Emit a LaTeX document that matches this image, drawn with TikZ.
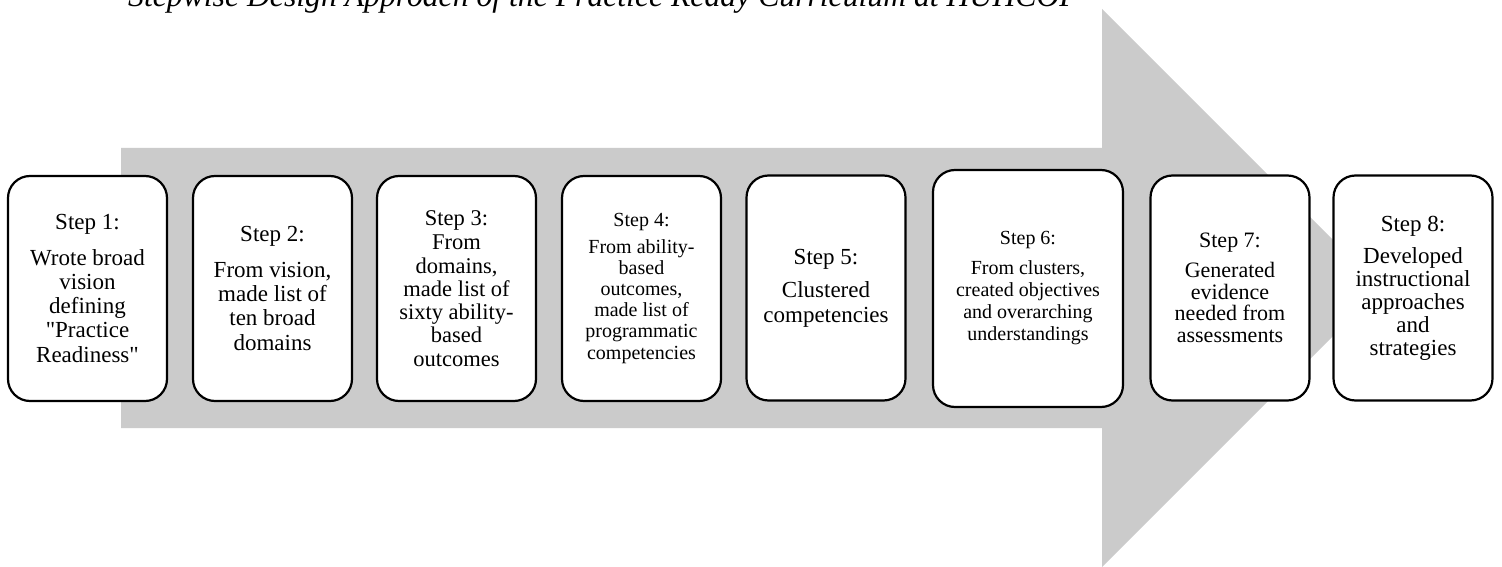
\documentclass[tikz,border=0pt]{standalone}
\usepackage{fontspec}
\setmainfont{Liberation Serif}[Ligatures=TeXOff]
\definecolor{arrowgray}{RGB}{203,203,203}
\tikzset{
  stepbox/.style={draw, line width=2.2pt, rounded corners=22pt, fill=white,
    minimum width=159pt, minimum height=225pt, inner sep=0pt, align=center},
  fsize/.style 2 args={font=\fontsize{#1}{#2}\selectfont}
}
\begin{document}
\begin{tikzpicture}[x=1pt, y=-1pt]
  \clip (0,0) rectangle (1502,567);
  \fill[white] (0,0) rectangle (1502,567);

  % caption, partly cut off by the top edge
  \node[anchor=base west, inner sep=0pt, font=\fontsize{31.7}{34}\selectfont\itshape]
    (title) at (128,7) {Stepwise Design Approach of the Practice Ready Curriculum at HUHCOP};

  % large background arrow
  \fill[arrowgray] (121,148) -- (1102,148) -- (1102,9) -- (1381,288)
    -- (1102,567) -- (1102,428) -- (121,428) -- cycle;

  % the eight steps
  \node[stepbox, fsize={23}{24.3}] (s1) at (87.5,288.5)
    {Step 1:\\[11pt] Wrote broad\\ vision\\ defining\\ "Practice\\ Readiness"};
  \node[stepbox, fsize={23}{24.3}] (s2) at (272.5,288.5)
    {Step 2:\\[11pt] From vision,\\ made list of\\ ten broad\\ domains};
  \node[stepbox, fsize={22.5}{23.3}] (s3) at (456.5,288.5)
    {Step 3:\\[1pt] From\\ domains,\\ made list of\\ sixty ability-\\ based\\ outcomes};
  \node[stepbox, fsize={20}{21.2}] (s4) at (641.5,288.5)
    {Step 4:\\[5pt] From ability-\\ based\\ outcomes,\\ made list of\\ programmatic\\ competencies};
  \node[stepbox, fsize={23}{25}] (s5) at (826,288)
    {Step 5:\\[8pt] Clustered\\ competencies};
  \node[stepbox, fsize={20}{22}, minimum width=190pt, minimum height=237pt] (s6) at (1028,288.5)
    {Step 6:\\[8pt] From clusters,\\ created objectives\\ and overarching\\ understandings};
  \node[stepbox, fsize={22}{21.5}] (s7) at (1230,288)
    {Step 7:\\[8.5pt] Generated\\ evidence\\ needed from\\ assessments};
  \node[stepbox, fsize={23}{23}] (s8) at (1413,288)
    {Step 8:\\[9pt] Developed\\ instructional\\ approaches\\ and\\ strategies};
\end{tikzpicture}
\end{document}
